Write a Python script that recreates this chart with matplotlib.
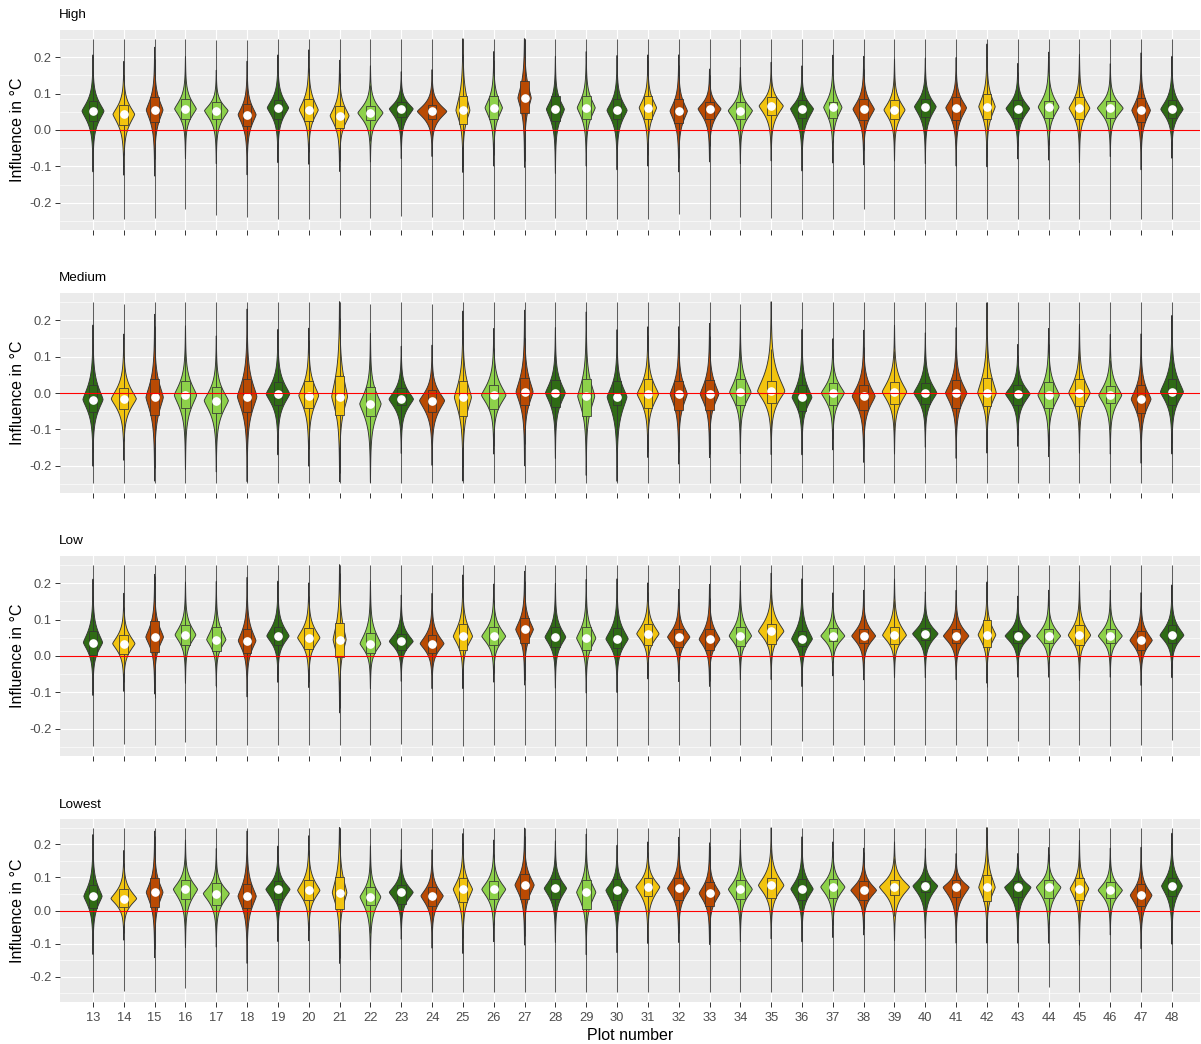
import numpy as np
import matplotlib
matplotlib.use("Agg")
import matplotlib.pyplot as plt
from matplotlib.patches import Rectangle

plt.rcParams['font.family'] = ['Liberation Sans', 'DejaVu Sans']

# ---------------- data ----------------
plots = list(range(13, 49))
plot_labels = [str(p) for p in plots]
colour_group = ["dg", "ye", "or", "lg", "lg", "or", "dg", "ye", "ye", "lg", "dg", "or",
                "ye", "lg", "or", "dg", "lg", "dg", "ye", "or", "or", "lg", "ye", "dg",
                "lg", "or", "ye", "dg", "or", "ye", "dg", "lg", "ye", "lg", "or", "dg"]
palette = {"dg": "#2F6B15", "ye": "#F2C40F", "or": "#B94A03", "lg": "#8DD14A"}
panel_titles = ["High", "Medium", "Low", "Lowest"]
y_ticks = [-0.2, -0.1, 0.0, 0.1, 0.2]
y_tick_labels = ["-0.2", "-0.1", "0.0", "0.1", "0.2"]

# High
high_mean = [0.052, 0.043, 0.055, 0.058, 0.053, 0.042, 0.061, 0.055, 0.039, 0.047, 0.058, 0.051,
             0.054, 0.061, 0.088, 0.057, 0.061, 0.054, 0.061, 0.052, 0.058, 0.053, 0.066, 0.058,
             0.062, 0.057, 0.055, 0.064, 0.061, 0.064, 0.059, 0.063, 0.060, 0.060, 0.054, 0.057]
high_q3 = [0.080, 0.069, 0.092, 0.085, 0.076, 0.072, 0.083, 0.084, 0.066, 0.066, 0.078, 0.070,
           0.094, 0.094, 0.134, 0.094, 0.094, 0.084, 0.094, 0.084, 0.078, 0.078, 0.092, 0.083,
           0.078, 0.084, 0.083, 0.084, 0.092, 0.098, 0.083, 0.080, 0.092, 0.080, 0.087, 0.083]
high_q1 = [0.025, 0.014, 0.023, 0.029, 0.029, 0.012, 0.031, 0.026, 0.005, 0.028, 0.035, 0.031,
           0.017, 0.029, 0.046, 0.026, 0.029, 0.029, 0.029, 0.020, 0.029, 0.029, 0.040, 0.032,
           0.034, 0.028, 0.029, 0.035, 0.028, 0.029, 0.032, 0.032, 0.029, 0.032, 0.023, 0.032]
high_top = [0.138, 0.124, 0.151, 0.138, 0.115, 0.124, 0.142, 0.147, 0.124, 0.119, 0.115, 0.115,
            0.179, 0.147, 0.202, 0.138, 0.147, 0.138, 0.142, 0.138, 0.119, 0.119, 0.133, 0.124,
            0.142, 0.138, 0.133, 0.138, 0.138, 0.160, 0.128, 0.147, 0.142, 0.128, 0.142, 0.138]
high_bottom = [-0.041, -0.050, -0.046, -0.018, -0.028, -0.050, -0.023, -0.028, -0.046, -0.028, -0.018, -0.018,
               -0.041, -0.028, -0.018, -0.041, -0.028, -0.037, -0.028, -0.041, -0.023, -0.028, -0.018, -0.037,
               -0.023, -0.028, -0.023, -0.023, -0.028, -0.028, -0.018, -0.018, -0.023, -0.014, -0.037, -0.018]
high_width = [0.69, 0.68, 0.52, 0.68, 0.74, 0.56, 0.67, 0.59, 0.59, 0.79, 0.75, 0.93,
              0.43, 0.54, 0.41, 0.56, 0.56, 0.63, 0.54, 0.54, 0.72, 0.76, 0.76, 0.72,
              0.57, 0.67, 0.66, 0.68, 0.65, 0.51, 0.74, 0.65, 0.65, 0.81, 0.58, 0.70]
high_min = [-0.246, -0.246, -0.243, -0.217, -0.234, -0.239, -0.246, -0.246, -0.243, -0.243, -0.236, -0.240,
            -0.246, -0.246, -0.246, -0.243, -0.246, -0.246, -0.246, -0.232, -0.246, -0.240, -0.243, -0.246,
            -0.246, -0.218, -0.246, -0.246, -0.246, -0.246, -0.246, -0.246, -0.246, -0.246, -0.246, -0.246]
high_max = [0.251, 0.251, 0.251, 0.251, 0.248, 0.248, 0.251, 0.251, 0.251, 0.251, 0.251, 0.251,
            0.251, 0.251, 0.251, 0.251, 0.251, 0.251, 0.251, 0.251, 0.251, 0.251, 0.251, 0.251,
            0.251, 0.251, 0.251, 0.251, 0.251, 0.251, 0.251, 0.251, 0.251, 0.251, 0.251, 0.251]

# Medium
med_mean = [-0.018, -0.016, -0.012, -0.006, -0.021, -0.010, -0.003, -0.007, -0.010, -0.030, -0.017, -0.021,
            -0.012, -0.006, 0.003, 0.000, -0.009, -0.011, -0.003, -0.003, -0.003, 0.002, 0.005, -0.012,
            0.000, -0.009, 0.003, 0.000, 0.000, 0.000, -0.003, -0.006, 0.000, -0.006, -0.017, 0.003]
med_q3 = [0.023, 0.013, 0.038, 0.034, 0.017, 0.038, 0.029, 0.034, 0.046, 0.016, 0.014, 0.007,
          0.032, 0.023, 0.041, 0.037, 0.039, 0.032, 0.039, 0.032, 0.035, 0.039, 0.032, 0.023,
          0.028, 0.023, 0.029, 0.028, 0.035, 0.041, 0.023, 0.029, 0.039, 0.020, 0.023, 0.039]
med_q1 = [-0.051, -0.045, -0.060, -0.042, -0.056, -0.053, -0.032, -0.041, -0.060, -0.064, -0.032, -0.053,
          -0.062, -0.044, -0.032, -0.039, -0.062, -0.032, -0.041, -0.046, -0.046, -0.032, -0.028, -0.050,
          -0.034, -0.046, -0.029, -0.029, -0.041, -0.037, -0.032, -0.041, -0.037, -0.028, -0.055, -0.032]
med_top = [0.096, 0.083, 0.115, 0.100, 0.078, 0.124, 0.096, 0.096, 0.160, 0.078, 0.064, 0.064,
           0.120, 0.096, 0.128, 0.100, 0.120, 0.092, 0.100, 0.100, 0.105, 0.110, 0.147, 0.092,
           0.083, 0.092, 0.105, 0.092, 0.100, 0.138, 0.073, 0.096, 0.105, 0.087, 0.083, 0.120]
med_bottom = [-0.120, -0.110, -0.140, -0.120, -0.130, -0.140, -0.096, -0.115, -0.140, -0.150, -0.100, -0.120,
              -0.140, -0.096, -0.110, -0.100, -0.130, -0.140, -0.100, -0.110, -0.100, -0.092, -0.092, -0.100,
              -0.087, -0.110, -0.092, -0.083, -0.100, -0.092, -0.083, -0.100, -0.092, -0.096, -0.115, -0.092]
med_width = [0.63, 0.79, 0.54, 0.70, 0.76, 0.61, 0.74, 0.62, 0.49, 0.67, 0.77, 0.79,
             0.53, 0.77, 0.53, 0.62, 0.53, 0.62, 0.67, 0.53, 0.58, 0.67, 0.86, 0.62,
             0.72, 0.72, 0.77, 0.72, 0.67, 0.58, 0.77, 0.67, 0.67, 0.72, 0.62, 0.72]
med_min = [-0.247, -0.247, -0.247, -0.247, -0.247, -0.247, -0.247, -0.247, -0.247, -0.247, -0.247, -0.247,
           -0.247, -0.247, -0.247, -0.247, -0.247, -0.247, -0.247, -0.247, -0.247, -0.247, -0.247, -0.247,
           -0.247, -0.247, -0.247, -0.247, -0.247, -0.247, -0.247, -0.247, -0.247, -0.247, -0.247, -0.247]
med_max = [0.251, 0.246, 0.251, 0.251, 0.251, 0.251, 0.251, 0.251, 0.251, 0.246, 0.251, 0.244,
           0.251, 0.251, 0.251, 0.251, 0.251, 0.251, 0.251, 0.251, 0.251, 0.246, 0.251, 0.251,
           0.251, 0.251, 0.251, 0.251, 0.251, 0.251, 0.251, 0.251, 0.251, 0.251, 0.251, 0.251]

# Low
low_mean = [0.037, 0.034, 0.052, 0.058, 0.045, 0.042, 0.055, 0.050, 0.045, 0.034, 0.040, 0.034,
            0.054, 0.054, 0.073, 0.052, 0.049, 0.047, 0.061, 0.052, 0.046, 0.055, 0.068, 0.047,
            0.055, 0.055, 0.057, 0.061, 0.055, 0.058, 0.055, 0.055, 0.057, 0.055, 0.043, 0.057]
low_q3 = [0.068, 0.057, 0.095, 0.084, 0.079, 0.075, 0.081, 0.077, 0.090, 0.064, 0.061, 0.058,
          0.087, 0.079, 0.105, 0.079, 0.081, 0.078, 0.089, 0.075, 0.073, 0.079, 0.089, 0.070,
          0.077, 0.075, 0.081, 0.077, 0.073, 0.098, 0.070, 0.075, 0.084, 0.075, 0.068, 0.084]
low_q1 = [0.004, 0.006, 0.011, 0.029, 0.013, 0.009, 0.029, 0.018, -0.003, 0.009, 0.016, 0.009,
          0.017, 0.029, 0.037, 0.025, 0.016, 0.022, 0.031, 0.026, 0.016, 0.027, 0.034, 0.027,
          0.040, 0.037, 0.034, 0.043, 0.037, 0.025, 0.037, 0.037, 0.031, 0.037, 0.016, 0.037]
low_top = [0.134, 0.111, 0.148, 0.139, 0.134, 0.139, 0.139, 0.134, 0.175, 0.130, 0.111, 0.111,
           0.148, 0.134, 0.162, 0.134, 0.139, 0.139, 0.139, 0.125, 0.130, 0.139, 0.157, 0.139,
           0.121, 0.125, 0.143, 0.125, 0.125, 0.139, 0.116, 0.125, 0.139, 0.125, 0.116, 0.134]
low_bottom = [-0.044, -0.039, -0.035, -0.016, -0.026, -0.044, -0.016, -0.026, -0.067, -0.035, -0.021, -0.035,
              -0.026, -0.016, -0.012, -0.026, -0.035, -0.035, -0.008, -0.016, -0.026, -0.012, -0.006, -0.026,
              -0.006, -0.012, -0.008, -0.006, -0.012, -0.016, -0.008, -0.008, -0.012, -0.008, -0.026, -0.008]
low_width = [0.60, 0.70, 0.55, 0.65, 0.60, 0.55, 0.70, 0.70, 0.40, 0.65, 0.75, 0.75,
             0.60, 0.75, 0.55, 0.65, 0.60, 0.70, 0.70, 0.70, 0.65, 0.70, 0.80, 0.65,
             0.75, 0.75, 0.75, 0.80, 0.80, 0.55, 0.80, 0.75, 0.70, 0.75, 0.70, 0.75]
low_min = [-0.247, -0.243, -0.246, -0.236, -0.246, -0.246, -0.246, -0.246, -0.246, -0.246, -0.243, -0.246,
           -0.247, -0.246, -0.246, -0.247, -0.247, -0.247, -0.246, -0.246, -0.247, -0.246, -0.246, -0.233,
           -0.246, -0.246, -0.246, -0.246, -0.246, -0.247, -0.233, -0.246, -0.246, -0.247, -0.246, -0.230]
low_max = [0.251, 0.251, 0.251, 0.251, 0.251, 0.251, 0.251, 0.251, 0.251, 0.251, 0.251, 0.251,
           0.251, 0.251, 0.251, 0.251, 0.251, 0.251, 0.251, 0.251, 0.251, 0.251, 0.251, 0.251,
           0.251, 0.251, 0.251, 0.251, 0.251, 0.251, 0.251, 0.251, 0.251, 0.251, 0.251, 0.251]

# Lowest
lowest_mean = [0.043, 0.036, 0.055, 0.064, 0.051, 0.043, 0.064, 0.061, 0.054, 0.041, 0.055, 0.044,
               0.064, 0.064, 0.077, 0.067, 0.055, 0.061, 0.071, 0.067, 0.052, 0.064, 0.076, 0.065,
               0.071, 0.061, 0.071, 0.074, 0.070, 0.070, 0.070, 0.070, 0.066, 0.061, 0.046, 0.074]
lowest_q3 = [0.077, 0.064, 0.097, 0.092, 0.082, 0.079, 0.089, 0.092, 0.102, 0.072, 0.077, 0.072,
             0.099, 0.090, 0.112, 0.095, 0.092, 0.095, 0.097, 0.097, 0.087, 0.092, 0.097, 0.095,
             0.095, 0.089, 0.092, 0.090, 0.092, 0.107, 0.090, 0.092, 0.097, 0.087, 0.079, 0.099]
lowest_q1 = [0.008, 0.011, 0.011, 0.036, 0.018, 0.008, 0.036, 0.031, 0.004, 0.016, 0.021, 0.014,
             0.026, 0.036, 0.036, 0.036, 0.006, 0.031, 0.044, 0.031, 0.014, 0.036, 0.038, 0.031,
             0.039, 0.031, 0.048, 0.055, 0.041, 0.028, 0.041, 0.039, 0.031, 0.039, 0.014, 0.044]
lowest_top = [0.147, 0.117, 0.158, 0.147, 0.127, 0.153, 0.137, 0.153, 0.193, 0.127, 0.127, 0.122,
              0.158, 0.147, 0.173, 0.147, 0.153, 0.137, 0.147, 0.153, 0.137, 0.147, 0.173, 0.153,
              0.147, 0.132, 0.147, 0.137, 0.127, 0.188, 0.127, 0.137, 0.147, 0.132, 0.127, 0.163]
lowest_bottom = [-0.055, -0.034, -0.055, -0.034, -0.039, -0.070, -0.024, -0.024, -0.065, -0.065, -0.024, -0.044,
                 -0.044, -0.024, -0.024, -0.024, -0.050, -0.044, -0.024, -0.024, -0.034, -0.024, -0.014, -0.024,
                 -0.014, -0.014, -0.019, -0.014, -0.024, -0.024, -0.024, -0.024, -0.029, -0.014, -0.044, -0.024]
lowest_width = [0.57, 0.81, 0.52, 0.76, 0.82, 0.57, 0.76, 0.70, 0.45, 0.65, 0.75, 0.70,
                0.60, 0.75, 0.60, 0.70, 0.60, 0.70, 0.75, 0.70, 0.65, 0.75, 0.80, 0.70,
                0.76, 0.81, 0.95, 0.78, 0.82, 0.51, 0.83, 0.77, 0.58, 0.76, 0.68, 0.65]
lowest_min = [-0.246, -0.243, -0.246, -0.236, -0.246, -0.243, -0.246, -0.246, -0.246, -0.246, -0.246, -0.246,
              -0.246, -0.246, -0.246, -0.246, -0.246, -0.246, -0.246, -0.246, -0.246, -0.246, -0.246, -0.246,
              -0.245, -0.246, -0.246, -0.246, -0.246, -0.249, -0.246, -0.233, -0.246, -0.246, -0.246, -0.243]
lowest_max = [0.251, 0.251, 0.251, 0.251, 0.251, 0.251, 0.251, 0.251, 0.251, 0.251, 0.251, 0.251,
              0.251, 0.251, 0.251, 0.251, 0.251, 0.251, 0.251, 0.251, 0.251, 0.251, 0.251, 0.251,
              0.251, 0.251, 0.251, 0.251, 0.251, 0.251, 0.251, 0.251, 0.251, 0.251, 0.251, 0.251]

panels = [
    (high_mean, high_q1, high_q3, high_top, high_bottom, high_width, high_min, high_max),
    (med_mean, med_q1, med_q3, med_top, med_bottom, med_width, med_min, med_max),
    (low_mean, low_q1, low_q3, low_top, low_bottom, low_width, low_min, low_max),
    (lowest_mean, lowest_q1, lowest_q3, lowest_top, lowest_bottom, lowest_width, lowest_min, lowest_max),
]

# ---------------- drawing ----------------
W, H = 1201, 1044
fig = plt.figure(figsize=(W / 100, H / 100), dpi=100)
panel_px = [(30, 230), (293, 493), (556, 756), (819, 1002)]
title_y = [15, 278, 541, 805]
ylims = [(-0.275, 0.275), (-0.275, 0.275), (-0.275, 0.275), (-0.277, 0.277)]
left_px, right_px = 60, 1200
outline = "#333333"
TAIL_REACH = 1.8   # how far (relative to body) the dark tail of the density continues
TAIL_HALF = 0.011  # half width of the thin density tail, in category units


def half_width(t, width):
    body = width / 2 * np.exp(-3.0 * t ** 1.3)
    tail = TAIL_HALF * np.sqrt(np.clip(1 - t / TAIL_REACH, 0, 1))
    return body + tail


def draw_violin(ax, x, mode, top, bottom, lo, hi, width, color):
    up_end = min(hi, mode + TAIL_REACH * (top - mode))
    dn_end = max(lo, mode - TAIL_REACH * (mode - bottom))
    yu = np.linspace(mode, up_end, 200)
    hu = half_width((yu - mode) / (top - mode), width)
    yd = np.linspace(mode, dn_end, 200)
    hd = half_width((mode - yd) / (mode - bottom), width)
    ys = np.concatenate([yd[::-1], yu[1:]])
    hs = np.concatenate([hd[::-1], hu[1:]])
    xs = np.concatenate([x + hs, (x - hs)[::-1]])
    yy = np.concatenate([ys, ys[::-1]])
    # thin far tails out to the extreme values
    ax.vlines(x, lo, hi, color="#5E5E5E", lw=0.75, zorder=1.8)
    ax.fill(xs, yy, facecolor=color, edgecolor=outline, lw=0.65, zorder=2)


for k in range(4):
    top_px, bot_px = panel_px[k]
    ax = fig.add_axes([left_px / W, 1 - bot_px / H, (right_px - left_px) / W, (bot_px - top_px) / H])
    ax.set_facecolor("#EBEBEB")
    for s in ax.spines.values():
        s.set_visible(False)
    ax.set_xlim(-1.07, 35.91)
    ax.set_ylim(*ylims[k])
    ax.set_yticks(y_ticks)
    ax.set_yticklabels(y_tick_labels)
    ax.set_yticks([-0.25, -0.15, -0.05, 0.05, 0.15, 0.25], minor=True)
    ax.set_xticks(range(len(plots)))
    ax.set_xticklabels(plot_labels)
    ax.grid(which='major', color='white', lw=0.85)
    ax.grid(which='minor', axis='y', color='white', lw=0.45)
    ax.set_axisbelow(True)
    ax.tick_params(which='minor', length=0)
    ax.tick_params(which='major', length=3.6, width=0.7, color=outline,
                   labelcolor='#4D4D4D', labelsize=9.3, pad=2.5)
    if k < 3:
        ax.tick_params(axis='x', labelbottom=False)
    else:
        ax.tick_params(axis='x', pad=3.5)

    mean, q1, q3, top, bottom, width, lo, hi = panels[k]
    for i in range(len(plots)):
        col = palette[colour_group[i]]
        draw_violin(ax, i, mean[i], top[i], bottom[i], lo[i], hi[i], width[i], col)
        iqr = q3[i] - q1[i]
        wh = min(hi[i], q3[i] + 1.5 * iqr)
        wl = max(lo[i], q1[i] - 1.5 * iqr)
        ax.vlines(i, q3[i], wh, color=outline, lw=0.6, zorder=3)
        ax.vlines(i, wl, q1[i], color=outline, lw=0.6, zorder=3)
        ax.add_patch(Rectangle((i - 0.14, q1[i]), 0.28, iqr, facecolor=col,
                               edgecolor=outline, lw=0.55, zorder=3))
        ax.plot(i, mean[i], 'o', color='white', mec='white', ms=5.2, zorder=4)
    ax.axhline(0, color='#FF0000', lw=0.8, zorder=5)

    fig.text(59 / W, 1 - title_y[k] / H, panel_titles[k], ha='left', va='center',
             fontsize=9.7, color='black')
    fig.text(18 / W, 1 - (top_px + bot_px) / 2 / H, "Influence in °C", rotation=90,
             ha='center', va='center', fontsize=11.5, color='black')

fig.text(630 / W, 1 - 1035 / H, "Plot number", ha='center', va='center',
         fontsize=11.5, color='black')

fig.savefig("out.png", dpi=100)
